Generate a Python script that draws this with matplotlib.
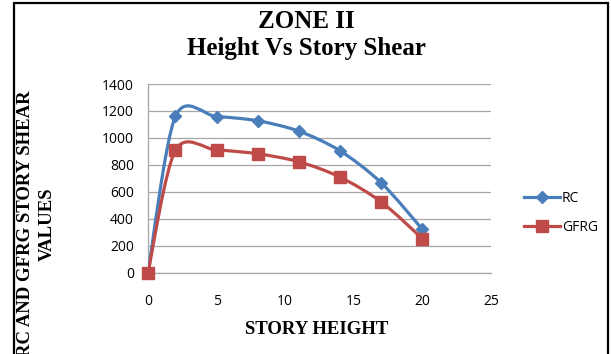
import numpy as np
import matplotlib
matplotlib.use("Agg")
import matplotlib.pyplot as plt
from matplotlib.path import Path
from matplotlib.patches import PathPatch, Rectangle
from matplotlib.lines import Line2D

# Story height (m) and story shear values for both systems
heights = [0, 2, 5, 8, 11, 14, 17, 20]
rc_shear = [0, 1160, 1158, 1127, 1050, 904, 667, 322]
gfrg_shear = [0, 909, 910, 882, 823, 709, 525, 253]

x_ticks = [0, 5, 10, 15, 20, 25]
y_ticks = [0, 200, 400, 600, 800, 1000, 1200, 1400]

RC_COLOR = "#4a7ebb"
GFRG_COLOR = "#be4b48"


def smooth_path(xs, ys, tension=0.15):
    """Cubic Bezier path through the points (cardinal-spline smoothing)."""
    pts = np.column_stack([xs, ys]).astype(float)
    n = len(pts)
    verts = [pts[0]]
    codes = [Path.MOVETO]
    for i in range(n - 1):
        p_prev = pts[i - 1] if i > 0 else pts[i]
        p0 = pts[i]
        p1 = pts[i + 1]
        p_next = pts[i + 2] if i + 2 < n else pts[i + 1]
        c1 = p0 + (p1 - p_prev) * tension
        c2 = p1 - (p_next - p0) * tension
        verts += [c1, c2, p1]
        codes += [Path.CURVE4] * 3
    return Path(verts, codes)


fig = plt.figure(figsize=(6.11, 3.54), dpi=100)
ax = fig.add_axes([148 / 611, 1 - 272.7 / 354, (491 - 148) / 611, (272.7 - 84) / 354])

tick_font = dict(family="Open Sans", size=10)
serif_bold = dict(family="Liberation Serif", weight="bold")

ax.set_xlim(0, 25)
ax.set_ylim(0, 1400)
ax.set_xticks(x_ticks)
ax.set_yticks(y_ticks)
ax.set_xticklabels([str(v) for v in x_ticks], **tick_font)
ax.set_yticklabels([str(v) for v in y_ticks], **tick_font)
ax.tick_params(axis="x", length=0, pad=15, colors="black")
ax.tick_params(axis="y", length=0, pad=10, colors="black")

ax.grid(axis="y", color="#a6a6a6", linewidth=0.9)
ax.set_axisbelow(True)
for side in ("top", "right"):
    ax.spines[side].set_visible(False)
for side in ("left", "bottom"):
    ax.spines[side].set_color("#a6a6a6")
    ax.spines[side].set_linewidth(0.9)

for ys, color, marker, ms in ((rc_shear, RC_COLOR, "D", 6.5),
                              (gfrg_shear, GFRG_COLOR, "s", 8.5)):
    ax.add_patch(PathPatch(smooth_path(heights, ys), facecolor="none",
                           edgecolor=color, linewidth=2.3, capstyle="round",
                           zorder=3))
    ax.plot(heights, ys, linestyle="none", marker=marker, markersize=ms,
            color=color, zorder=4, clip_on=False)

# Titles and axis labels
fig.text(306 / 611, 1 - 22 / 354, "ZONE II", ha="center", va="center",
         fontsize=18, **serif_bold)
fig.text(306 / 611, 1 - 49 / 354, "Height Vs Story Shear", ha="center",
         va="center", fontsize=18, **serif_bold)
fig.text(317 / 611, 1 - 330 / 354, "STORY HEIGHT", ha="center", va="center",
         fontsize=13.5, **serif_bold)
fig.text(36.5 / 611, 1 - 224 / 354, "RC AND GFRG STORY SHEAR\nVALUES",
         ha="center", va="center", rotation=90, multialignment="center",
         linespacing=1.35, fontsize=13.5, **serif_bold)

# Legend
handles = [
    Line2D([], [], color=RC_COLOR, linewidth=2.3, marker="D", markersize=6.5),
    Line2D([], [], color=GFRG_COLOR, linewidth=2.3, marker="s", markersize=8.5),
]
fig.legend(handles, ["RC", "GFRG"], loc="center left",
           bbox_to_anchor=(518 / 611, 1 - 213 / 354), frameon=False,
           prop=tick_font, handlelength=2.6, handletextpad=0.15,
           labelspacing=1.0, borderaxespad=0)

# Outer chart border
fig.patches.append(Rectangle((14 / 611, -0.2), (608 - 14) / 611, 1.2 - 3 / 354,
                             transform=fig.transFigure, fill=False,
                             edgecolor="black", linewidth=1.6))

fig.savefig("out.png", dpi=100)
